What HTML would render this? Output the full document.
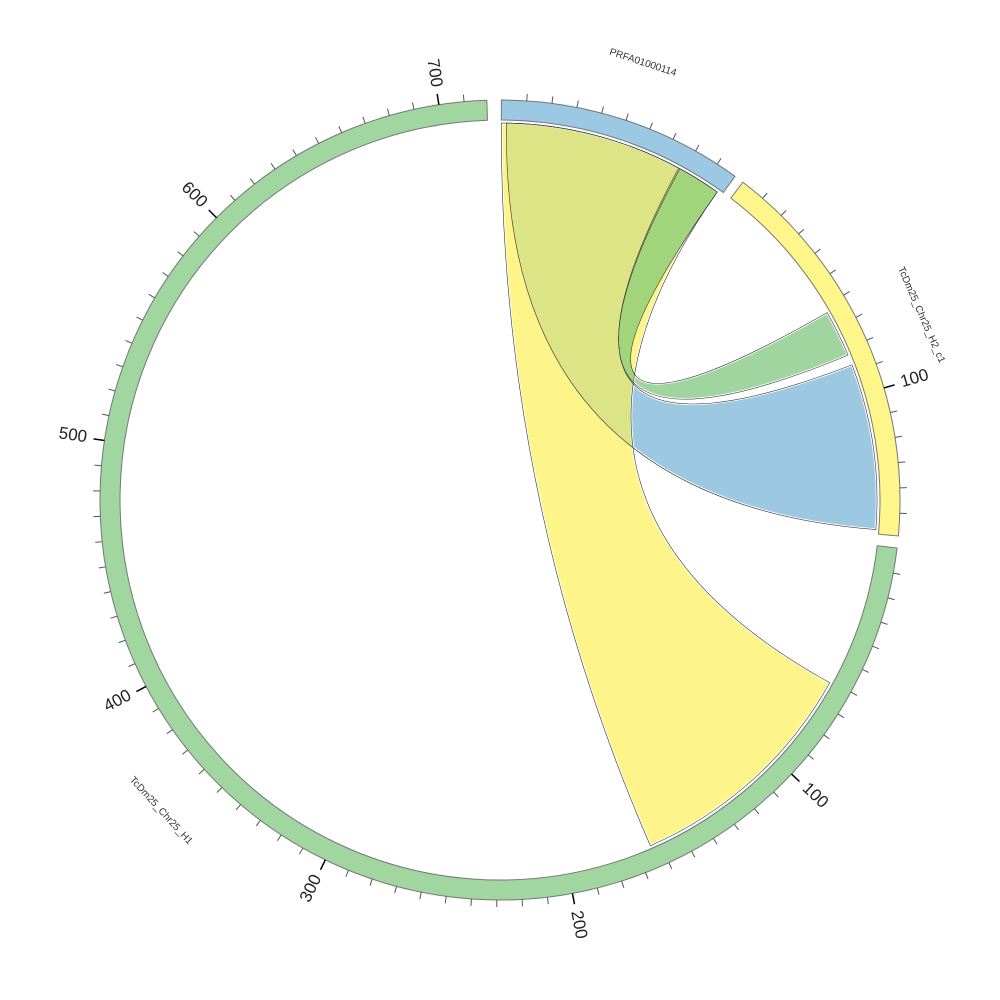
<!DOCTYPE html>
<html><head><meta charset="utf-8"><style>body{margin:0;background:#fff}svg{display:block}</style></head>
<body>
<svg id="s" width="1000" height="1000" viewBox="0 0 1000 1000" xmlns="http://www.w3.org/2000/svg" font-family="Liberation Sans, sans-serif"></svg>
<script>
const cx=500,cy=500,R0=380,R1=400,RL=377,S=0.3633;
function P(a,r){const t=a*Math.PI/180;return [cx+r*Math.sin(t),cy-r*Math.cos(t)];}
function f(p){return p[0].toFixed(2)+","+p[1].toFixed(2);}
let h="";
const chrs=[{n:"PRFA01000114",s:0.2,len:98.5,c:"#9bc8e2"},{n:"TcDm25_Chr25_H2_c1",s:37.4,len:159,c:"#fef68a"},{n:"TcDm25_Chr25_H1",s:96.9,len:719,c:"#a1d6a0"}];
function rd(a1,a2,b1,b2){return "M"+f(P(a1,RL))+" A"+RL+" "+RL+" 0 0 1 "+f(P(a2,RL))+" Q500,500 "+f(P(b1,RL))+" A"+RL+" "+RL+" 0 0 1 "+f(P(b2,RL))+" Q500,500 "+f(P(a1,RL))+"Z";}
function ribbon(d,fill){
 h+='<path d="'+d+'" fill="'+fill+'" stroke="#fff" stroke-width="2.5"/>';
}
const dB=rd(1.0,28.3,69,94.5),dG=rd(28.5,35.2,60.2,67.4),dY=rd(0.2,35.2,119,156.5);
h+='<defs><clipPath id="cy"><path d="'+dY+'"/></clipPath></defs>';
ribbon(dB,"#9cc8e1");ribbon(dG,"#a1d5a0");ribbon(dY,"#fef58a");
h+='<g clip-path="url(#cy)"><path d="'+dB+'" fill="#bcd380" fill-opacity="0.5"/><path d="'+dG+'" fill="#7bc676" fill-opacity="0.7"/></g>';
for(const d of [dB,dG]) h+='<path d="'+d+'" fill="none" stroke="#333" stroke-width="0.6"/>';
h+='<path d="'+dY+'" fill="none" stroke="#333" stroke-width="0.6"/>';
for(const c of chrs){
 const e=c.s+c.len*S;const big=(e-c.s)>180?1:0;
 const d="M"+f(P(c.s,R1))+" A"+R1+" "+R1+" 0 "+big+" 1 "+f(P(e,R1))+" L"+f(P(e,R0))+" A"+R0+" "+R0+" 0 "+big+" 0 "+f(P(c.s,R0))+"Z";
 h+='<path d="'+d+'" fill="'+c.c+'" stroke="#777" stroke-width="1"/>';
 for(let u=10;u<c.len;u+=10){
  const a=c.s+u*S;const maj=u%100==0;
  h+='<line x1="'+P(a,R1)[0]+'" y1="'+P(a,R1)[1]+'" x2="'+P(a,R1+(maj?11:7))[0]+'" y2="'+P(a,R1+(maj?11:7))[1]+'" stroke="'+(maj?"#000":"#555")+'" stroke-width="'+(maj?1.5:1)+'"/>';
  if(maj){const p=P(a,432);const rot=a<180?a-90:a-270;
   h+='<text x="'+p[0]+'" y="'+p[1]+'" font-size="17" fill="#222" text-anchor="middle" dominant-baseline="middle" transform="rotate('+rot+' '+p[0]+' '+p[1]+')">'+u+'</text>';}
 }
 const m=(c.s+e)/2;const p=P(m,460);const rot=m<180?m:m-180;
 h+='<text x="'+p[0]+'" y="'+p[1]+'" font-size="10" fill="#333" text-anchor="middle" dominant-baseline="middle" transform="rotate('+rot+' '+p[0]+' '+p[1]+')">'+c.n+'</text>';
}
document.getElementById("s").innerHTML=h;
</script>
</body></html>
